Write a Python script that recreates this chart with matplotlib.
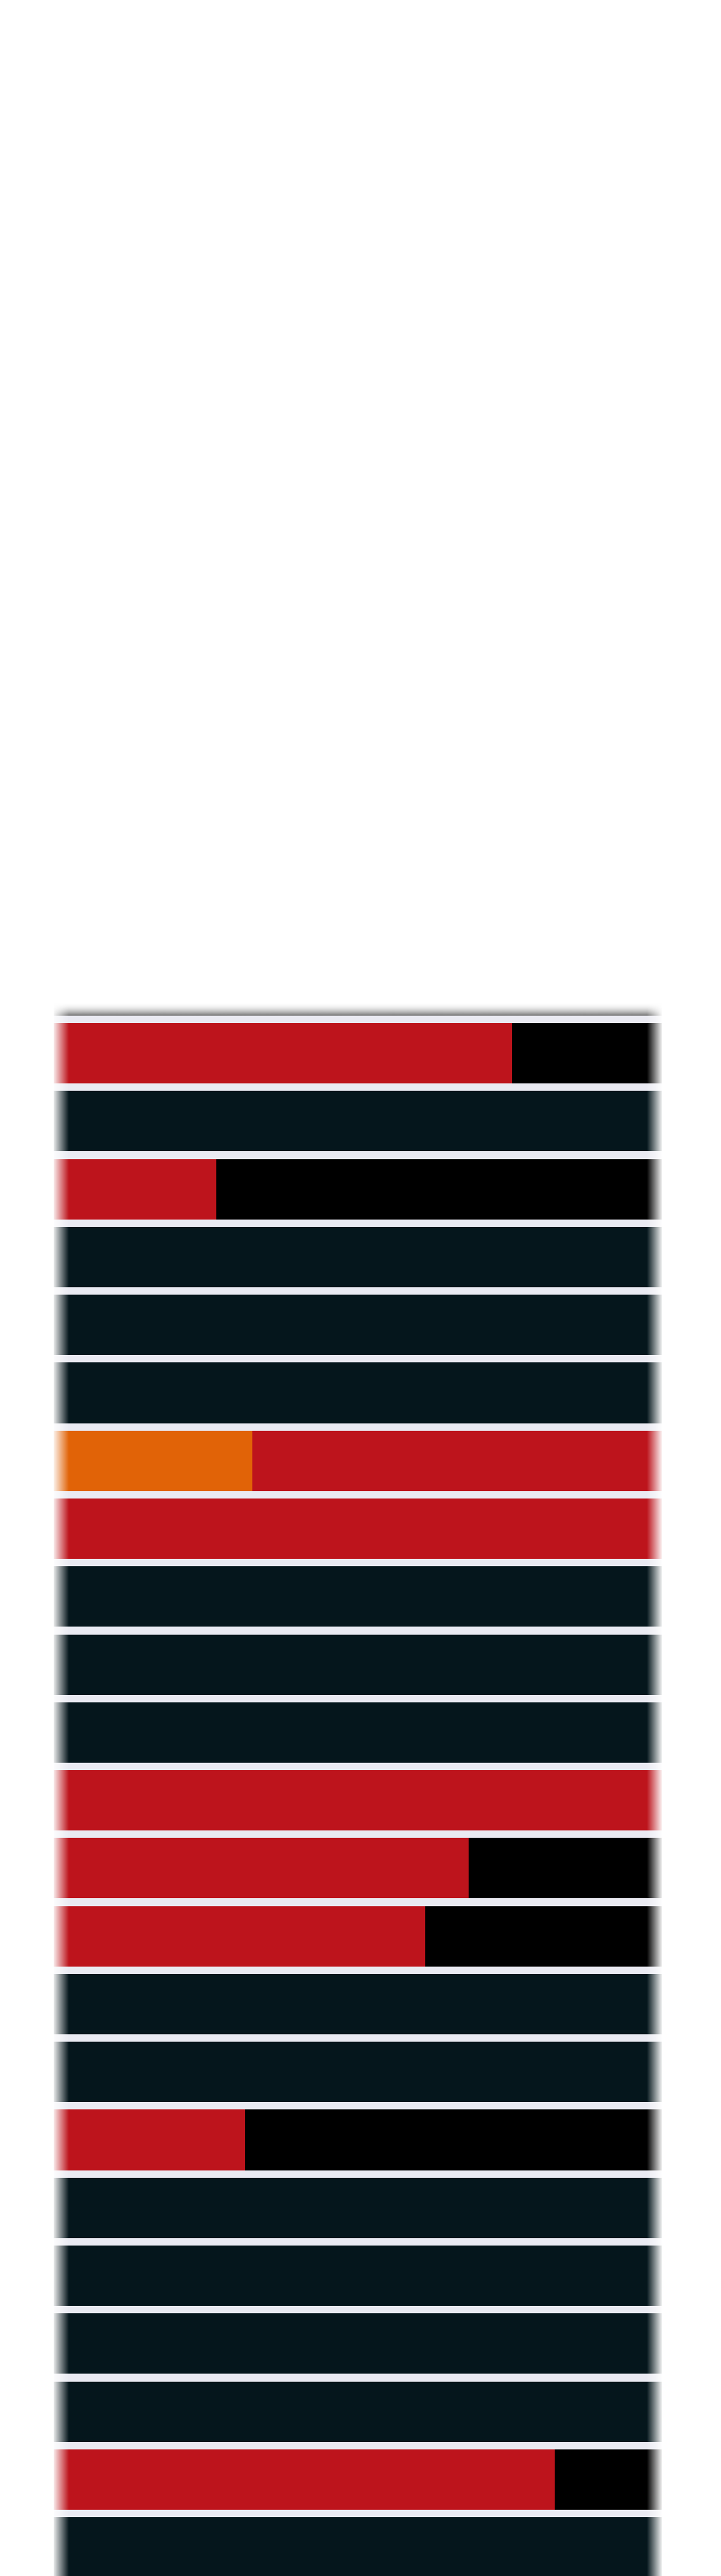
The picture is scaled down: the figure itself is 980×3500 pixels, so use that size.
import numpy as np
import matplotlib
matplotlib.use("Agg")
import matplotlib.pyplot as plt

# one row per bar, top to bottom; each row is split between four series
rows = list(range(23))
orange = [0, 0, 0, 0, 0, 0, 0.325, 0, 0, 0, 0, 0, 0, 0, 0, 0, 0, 0, 0, 0, 0, 0, 0]
red = [0.75, 0, 0.266, 0, 0, 0, 0.675, 1, 0, 0, 0, 1, 0.68, 0.608, 0, 0, 0.313, 0, 0, 0, 0, 0.82, 0]
black = [0.25, 0, 0.734, 0, 0, 0, 0, 0, 0, 0, 0, 0, 0.32, 0.392, 0, 0, 0.687, 0, 0, 0, 0, 0.18, 0]
navy = [0, 1, 0, 1, 1, 1, 0, 0, 1, 1, 1, 0, 0, 0, 1, 1, 0, 1, 1, 1, 1, 0, 1]

colors = {"orange": "#e16307", "red": "#bd141c", "black": "#000000", "navy": "#05161c"}

W, H = 980, 3500
fig = plt.figure(figsize=(W / 100, H / 100), dpi=100)
fig.patch.set_facecolor("white")

ax = fig.add_axes([73 / W, 0, 830 / W, (H - 1380) / H])
ax.set_facecolor("#eaeaf2")

left = np.zeros(len(rows))
for name, vals in [("orange", orange), ("red", red), ("black", black), ("navy", navy)]:
    ax.barh(rows, vals, left=left, height=0.89, color=colors[name], linewidth=0)
    left = left + np.array(vals)

ax.set_xlim(0, 1)
ax.set_ylim(22.42, -0.553)
ax.set_xticks([])
ax.set_yticks([])
for s in ax.spines.values():
    s.set_visible(False)

# soft edges: shadow on top, fade to white on both sides
ov = fig.add_axes([0, 0, 1, 1])
ov.set_xlim(0, W)
ov.set_ylim(H, 0)
ov.axis("off")
ov.patch.set_alpha(0)

n = 64
shadow = np.zeros((n, 1, 4))
shadow[..., :3] = 0.4
shadow[:, 0, 3] = np.linspace(0, 1, n) ** 2 * 0.9
ov.imshow(shadow, extent=(73, 903, 1380, 1362), aspect="auto", interpolation="bilinear")

fade_l = np.ones((1, n, 4))
fade_l[0, :, 3] = np.linspace(1, 0, n)
ov.imshow(fade_l, extent=(71, 94, H, 1355), aspect="auto", interpolation="bilinear")

fade_r = np.ones((1, n, 4))
fade_r[0, :, 3] = np.linspace(0, 1, n)
ov.imshow(fade_r, extent=(879, 901, H, 1355), aspect="auto", interpolation="bilinear")
ov.add_patch(plt.Rectangle((900, 1355), 10, H - 1355, color="white", lw=0))

ov.set_xlim(0, W)
ov.set_ylim(H, 0)

fig.savefig("out.png", dpi=100, facecolor="white")
